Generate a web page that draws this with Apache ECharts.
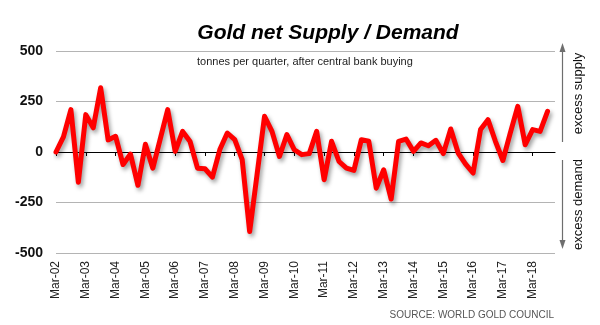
<!DOCTYPE html>
<html>
<head>
<meta charset="utf-8">
<script src="https://cdn.jsdelivr.net/npm/echarts@6/dist/echarts.min.js"></script>
<style>
  html, body { margin: 0; padding: 0; background: #ffffff; }
  #chart { width: 600px; height: 325px; }
</style>
</head>
<body>
<div id="chart"></div>
<script>
// Quarterly categories, Mar-02 through Dec-18
const quarters = [];
const monthNames = ['Mar', 'Jun', 'Sep', 'Dec'];
for (let y = 2; y <= 18; y++) {
  for (const m of monthNames) {
    quarters.push(m + '-' + String(y).padStart(2, '0'));
  }
}

// Net supply minus demand, tonnes per quarter (after central bank buying)
const netSupply = [
  0, 75, 210, -150, 185, 120, 318, 60,
  78, -62, -10, -165, 38, -80, 65, 210,
  3, 102, 52, -80, -83, -124, 12, 94,
  61, -38, -394, -110, 177, 102, -22, 86,
  11, -13, -8, 102, -137, 53, -47, -80,
  -91, 61, 53, -179, -88, -233, 53, 64,
  3, 45, 31, 58, -8, 114, -5, -60,
  -104, 111, 160, 53, -42, 95, 226, 36,
  111, 102, 201
];

const yTicks = { min: -500, max: 500, step: 250 };

const chart = echarts.init(document.getElementById('chart'), null, { renderer: 'canvas' });

const gray = '#6e6e6e';

chart.setOption({
  animation: false,
  backgroundColor: '#ffffff',
  grid: { left: 56, right: 45, top: 51, bottom: 72, containLabel: false },
  xAxis: [
    {
      type: 'category',
      data: quarters,
      boundaryGap: false,
      position: 'bottom',
      axisLine: { show: false, onZero: false },
      axisTick: { show: false },
      splitLine: { show: false },
      axisLabel: {
        interval: 3,
        rotate: 90,
        margin: 8,
        fontFamily: 'Liberation Sans, Arial, sans-serif',
        fontSize: 12,
        color: '#222'
      }
    },
    {
      type: 'category',
      data: quarters,
      boundaryGap: false,
      position: 'top',
      axisLine: { show: true, onZero: true, lineStyle: { color: '#000', width: 1.2 } },
      axisTick: { show: true, inside: true, interval: 3, length: 4, lineStyle: { color: '#000' } },
      axisLabel: { show: false },
      splitLine: { show: false }
    }
  ],
  yAxis: {
    type: 'value',
    min: yTicks.min,
    max: yTicks.max,
    interval: yTicks.step,
    axisLine: { show: false },
    axisTick: { show: false },
    splitLine: { show: true, lineStyle: { color: '#b4b4b4', width: 1 } },
    axisLabel: {
      margin: 13,
      fontFamily: 'Liberation Sans, Arial, sans-serif',
      fontSize: 14,
      fontWeight: 'bold',
      color: '#111'
    }
  },
  series: [
    {
      type: 'line',
      xAxisIndex: 0,
      data: netSupply,
      showSymbol: false,
      symbol: 'none',
      lineStyle: {
        color: '#ff0000',
        width: 5,
        join: 'round',
        cap: 'round',
        shadowColor: 'rgba(0,0,0,0.38)',
        shadowBlur: 4,
        shadowOffsetX: 2,
        shadowOffsetY: 3
      },
      z: 5
    }
  ],
  graphic: [
    {
      type: 'text',
      style: {
        text: 'Gold net Supply / Demand',
        x: 328,
        y: 33,
        align: 'center',
        verticalAlign: 'middle',
        font: 'italic bold 21px "Liberation Sans", Arial, sans-serif',
        fill: '#000'
      }
    },
    {
      type: 'text',
      style: {
        text: 'tonnes per quarter, after central bank buying',
        x: 197,
        y: 62,
        align: 'left',
        verticalAlign: 'middle',
        font: '11px "Liberation Sans", Arial, sans-serif',
        fill: '#222'
      }
    },
    // upward arrow: excess supply
    {
      type: 'line',
      shape: { x1: 562.5, y1: 50, x2: 562.5, y2: 142 },
      style: { stroke: gray, lineWidth: 1.2 }
    },
    {
      type: 'polygon',
      shape: { points: [[562.5, 43], [559.5, 52], [565.5, 52]] },
      style: { fill: gray }
    },
    // downward arrow: excess demand
    {
      type: 'line',
      shape: { x1: 562.5, y1: 160, x2: 562.5, y2: 242 },
      style: { stroke: gray, lineWidth: 1.2 }
    },
    {
      type: 'polygon',
      shape: { points: [[562.5, 249], [559.5, 240], [565.5, 240]] },
      style: { fill: gray }
    },
    {
      type: 'text',
      x: 578,
      y: 93.5,
      rotation: Math.PI / 2,
      style: {
        text: 'excess supply',
        x: 0,
        y: 0,
        align: 'center',
        verticalAlign: 'middle',
        font: '13px "Liberation Sans", Arial, sans-serif',
        fill: '#111'
      }
    },
    {
      type: 'text',
      x: 578,
      y: 204.5,
      rotation: Math.PI / 2,
      style: {
        text: 'excess demand',
        x: 0,
        y: 0,
        align: 'center',
        verticalAlign: 'middle',
        font: '13px "Liberation Sans", Arial, sans-serif',
        fill: '#111'
      }
    },
    {
      type: 'text',
      style: {
        text: 'SOURCE: WORLD GOLD COUNCIL',
        x: 554,
        y: 315,
        align: 'right',
        verticalAlign: 'middle',
        font: '10px "Liberation Sans", Arial, sans-serif',
        fill: '#555'
      }
    }
  ]
});
</script>
</body>
</html>
